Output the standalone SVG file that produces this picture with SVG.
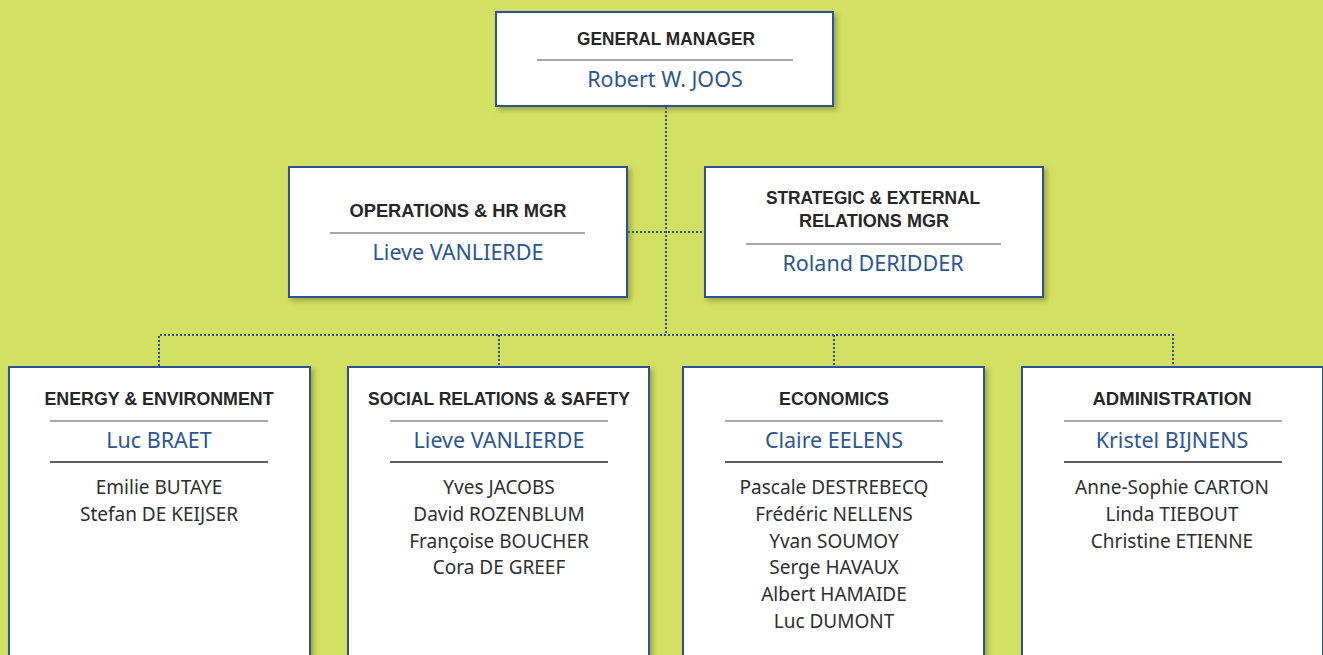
<svg xmlns="http://www.w3.org/2000/svg" width="1323" height="655" viewBox="0 0 1323 655">
<defs>
<filter id="sh" x="-10%" y="-10%" width="130%" height="130%">
<feDropShadow dx="3" dy="3" stdDeviation="2.5" flood-color="#6f7a2a" flood-opacity="0.55"/>
</filter>
<style>
.box{fill:#fff;stroke:#2d5193;stroke-width:2;filter:url(#sh)}
.conn{fill:none;stroke:#2d5193;stroke-width:2;stroke-dasharray:2 2}
.t{font-family:"Liberation Sans",Arial,sans-serif;font-weight:bold;font-size:18.5px;fill:#262626;text-anchor:middle}
.n{font-family:"Noto Sans","Open Sans",sans-serif;font-size:21.5px;fill:#2b5597;text-anchor:middle}
.s{font-family:"Noto Sans","Open Sans",sans-serif;font-size:19px;fill:#2e2e2e;text-anchor:middle}
.d1{stroke:#8a8a8a;stroke-width:1.5}
.d2{stroke:#2a2a2a;stroke-width:1.3}
</style>
</defs>
<rect width="1323" height="655" fill="#d2e063"/>
<g id="connectors">
<path class="conn" d="M666 107V335"/>
<path class="conn" d="M628 232H705"/>
<path class="conn" d="M159 366V335H1173V366"/>
<path class="conn" d="M499 335V366"/>
<path class="conn" d="M834 335V366"/>
</g>
<g id="gm">
<rect class="box" x="496" y="12" width="337" height="94"/>
<text class="t" x="666" y="45" textLength="178" lengthAdjust="spacingAndGlyphs">GENERAL MANAGER</text>
<line class="d1" x1="537" y1="60" x2="793" y2="60"/>
<text class="n" x="665" y="87">Robert W. JOOS</text>
</g>
<g id="ops">
<rect class="box" x="289" y="167" width="338" height="130"/>
<text class="t" x="458" y="217" textLength="217" lengthAdjust="spacingAndGlyphs">OPERATIONS &amp; HR MGR</text>
<line class="d1" x1="330" y1="233" x2="585" y2="233"/>
<text class="n" x="458" y="260">Lieve VANLIERDE</text>
</g>
<g id="strategic">
<rect class="box" x="705" y="167" width="338" height="130"/>
<text class="t" x="873" y="204" textLength="214" lengthAdjust="spacingAndGlyphs">STRATEGIC &amp; EXTERNAL</text>
<text class="t" x="874" y="227" textLength="150" lengthAdjust="spacingAndGlyphs">RELATIONS MGR</text>
<line class="d1" x1="746" y1="244" x2="1001" y2="244"/>
<text class="n" x="873" y="271">Roland DERIDDER</text>
</g>
<g id="energy">
<rect class="box" x="9" y="367" width="301" height="310"/>
<text class="t" x="159" y="405" textLength="229" lengthAdjust="spacingAndGlyphs">ENERGY &amp; ENVIRONMENT</text>
<line class="d1" x1="50" y1="421" x2="268" y2="421"/>
<text class="n" x="159" y="448">Luc BRAET</text>
<line class="d2" x1="50" y1="462" x2="268" y2="462"/>
<text class="s" x="159" y="494">Emilie BUTAYE</text>
<text class="s" x="159" y="521">Stefan DE KEIJSER</text>
</g>
<g id="social">
<rect class="box" x="348" y="367" width="301" height="310"/>
<text class="t" x="499" y="405" textLength="262" lengthAdjust="spacingAndGlyphs">SOCIAL RELATIONS &amp; SAFETY</text>
<line class="d1" x1="390" y1="421" x2="608" y2="421"/>
<text class="n" x="499" y="448">Lieve VANLIERDE</text>
<line class="d2" x1="390" y1="462" x2="608" y2="462"/>
<text class="s" x="499" y="494">Yves JACOBS</text>
<text class="s" x="499" y="521">David ROZENBLUM</text>
<text class="s" x="499" y="548">Françoise BOUCHER</text>
<text class="s" x="499" y="574">Cora DE GREEF</text>
</g>
<g id="economics">
<rect class="box" x="683" y="367" width="301" height="310"/>
<text class="t" x="834" y="405" textLength="110" lengthAdjust="spacingAndGlyphs">ECONOMICS</text>
<line class="d1" x1="725" y1="421" x2="943" y2="421"/>
<text class="n" x="834" y="448">Claire EELENS</text>
<line class="d2" x1="725" y1="462" x2="943" y2="462"/>
<text class="s" x="834" y="494">Pascale DESTREBECQ</text>
<text class="s" x="834" y="521">Frédéric NELLENS</text>
<text class="s" x="834" y="548">Yvan SOUMOY</text>
<text class="s" x="834" y="574">Serge HAVAUX</text>
<text class="s" x="834" y="601">Albert HAMAIDE</text>
<text class="s" x="834" y="628">Luc DUMONT</text>
</g>
<g id="administration">
<rect class="box" x="1022" y="367" width="301" height="310"/>
<text class="t" x="1172" y="405" textLength="159" lengthAdjust="spacingAndGlyphs">ADMINISTRATION</text>
<line class="d1" x1="1064" y1="421" x2="1282" y2="421"/>
<text class="n" x="1172" y="448">Kristel BIJNENS</text>
<line class="d2" x1="1064" y1="462" x2="1282" y2="462"/>
<text class="s" x="1172" y="494">Anne-Sophie CARTON</text>
<text class="s" x="1172" y="521">Linda TIEBOUT</text>
<text class="s" x="1172" y="548">Christine ETIENNE</text>
</g>
</svg>
